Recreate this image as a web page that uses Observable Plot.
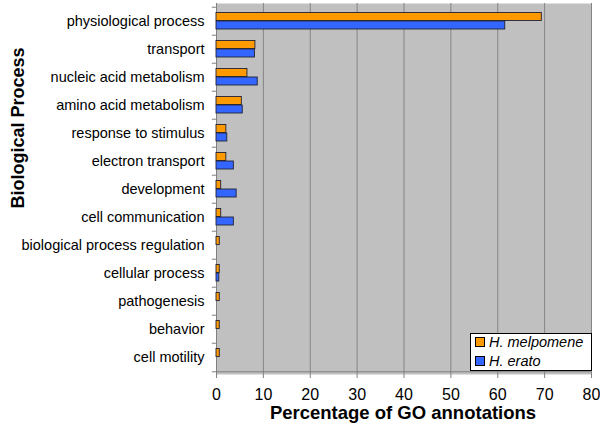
<!DOCTYPE html>
<html>
<head>
<meta charset="utf-8">
<script src="https://cdn.jsdelivr.net/npm/d3@7"></script>
<script src="https://cdn.jsdelivr.net/npm/@observablehq/plot@0.6"></script>
<style>
  html, body { margin: 0; padding: 0; background: #fff; }
  #wrap { position: relative; width: 600px; height: 425px; font-family: "Liberation Sans", Arial, sans-serif; }
  #legend { position: absolute; left: 470px; top: 333px; width: 122px; height: 38px; background: #fff; border: 1px solid #000; box-sizing: border-box; font-size: 14.5px; font-style: italic; }
  .item { position: absolute; left: 4px; display: flex; align-items: center; line-height: 16px; }
  .sw { width: 8px; height: 8px; border: 1px solid #000; margin-right: 4px; }
</style>
</head>
<body>
<div id="wrap"></div>
<script>
const categories = ["physiological process","transport","nucleic acid metabolism","amino acid metabolism","response to stimulus","electron transport","development","cell communication","biological process regulation","cellular process","pathogenesis","behavior","cell motility"];
const melpomene = [69.4, 8.3, 6.6, 5.4, 2.1, 2.1, 1.0, 1.0, 0.7, 0.7, 0.7, 0.7, 0.7];
const erato = [61.6, 8.2, 8.8, 5.6, 2.3, 3.7, 4.3, 3.7, 0, 0.6, 0, 0, 0];
const seriesNames = ["H. melpomene", "H. erato"];
const seriesColors = ["#ff9900", "#3366ff"];
const xTicks = [0, 10, 20, 30, 40, 50, 60, 70, 80];

const mel = categories.map((c, i) => ({cat: c, v: melpomene[i]}));
const era = categories.map((c, i) => ({cat: c, v: erato[i]}));
const bw = 371 / 13;

const chart = Plot.plot({
  width: 600, height: 425,
  marginLeft: 216, marginRight: 9, marginTop: 3, marginBottom: 51,
  style: {fontFamily: "Liberation Sans, Arial, sans-serif", fontSize: "14px", color: "#000", background: "#fff", overflow: "visible"},
  x: {domain: [0, 80], ticks: xTicks},
  y: {domain: categories, padding: 0},
  marks: [
    Plot.frame({fill: "#c0c0c0", stroke: null}),
    Plot.ruleX(xTicks.slice(1), {stroke: "#848484", strokeWidth: 1}),
    Plot.ruleX([0], {stroke: "#808080", strokeWidth: 1}),
    Plot.ruleY(categories, {y: d => d, x1: -0.9, x2: 0, dy: -bw / 2, stroke: "#808080"}),
    Plot.ruleY([categories[categories.length - 1]], {x1: -0.9, x2: 80, dy: bw / 2, stroke: "#808080"}),
    Plot.barX(mel.filter(d => d.v > 0), {x: "v", y: "cat", fill: seriesColors[0], stroke: "#222233", strokeWidth: 0.9, insetTop: 5.5, insetBottom: 14.5}),
    Plot.barX(era.filter(d => d.v > 0), {x: "v", y: "cat", fill: seriesColors[1], stroke: "#222233", strokeWidth: 0.9, insetTop: 14, insetBottom: 6}),
    Plot.axisX({ticks: xTicks, tickSize: 4, tickPadding: 10, stroke: "#808080", fontSize: 16, label: null}),
    Plot.axisY({tickSize: 0, tickPadding: 12, fontSize: 14.5, label: null})
  ]
});
document.getElementById("wrap").appendChild(chart);

const svg = d3.select(chart);
svg.append("text").attr("x", 403).attr("y", 419).attr("text-anchor", "middle")
  .attr("font-size", 18.5).attr("font-weight", "bold").attr("font-family", "Liberation Sans, Arial, sans-serif")
  .text("Percentage of GO annotations");
svg.append("text").attr("transform", "translate(24,128) rotate(-90)").attr("text-anchor", "middle")
  .attr("font-size", 18).attr("font-weight", "bold").attr("font-family", "Liberation Sans, Arial, sans-serif")
  .text("Biological Process");

const lg = document.createElement("div");
lg.id = "legend";
seriesNames.forEach((n, i) => {
  const it = document.createElement("div");
  it.className = "item";
  it.style.top = (0 + i * 19) + "px";
  it.innerHTML = `<span class="sw" style="background:${seriesColors[i]}"></span><span>${n}</span>`;
  lg.appendChild(it);
});
document.getElementById("wrap").appendChild(lg);
</script>
</body>
</html>
